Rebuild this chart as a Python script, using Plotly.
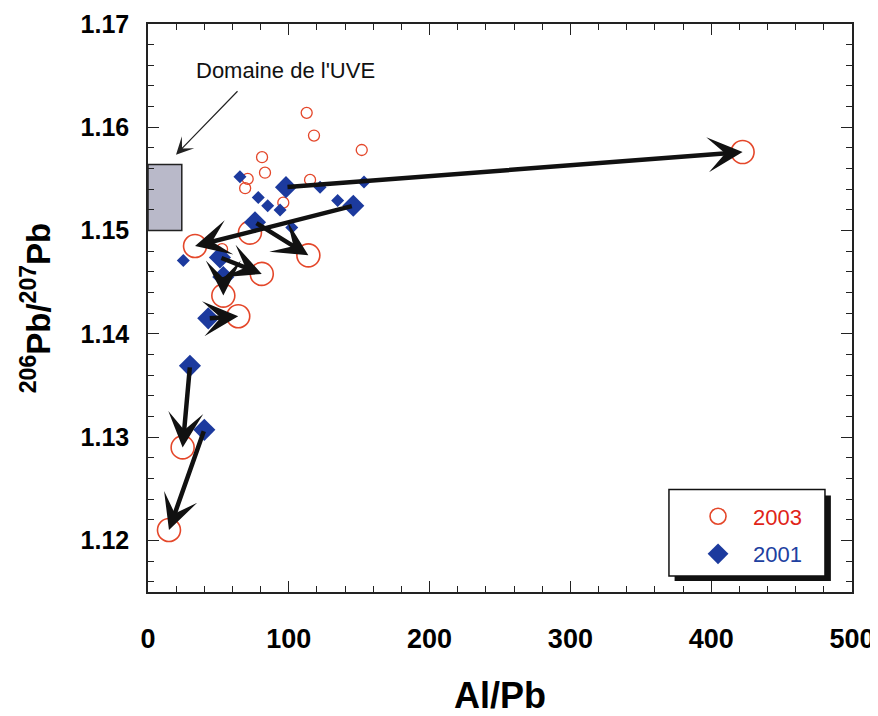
import plotly.graph_objects as go

# ---------------- data ----------------
# 2003 campaign (red open circles)
x2003_small = [112.7, 117.9, 151.8, 81.0, 83.1, 70.8, 69.0, 115.1, 96.1, 52.6]
y2003_small = [1.1614, 1.1592, 1.1578, 1.1571, 1.1556, 1.1550, 1.1541, 1.1549, 1.1527, 1.1482]
x2003_large = [422.3, 33.4, 113.9, 80.8, 53.5, 64.1, 24.6, 14.9, 72.4]
y2003_large = [1.1576, 1.1485, 1.1476, 1.1458, 1.1437, 1.1417, 1.1290, 1.1210, 1.1498]

# 2001 campaign (blue diamonds)
x2001_small = [65.3, 78.3, 85.0, 93.8, 122.2, 153.4, 134.7, 102.1, 25.1]
y2001_small = [1.1552, 1.1532, 1.1524, 1.1520, 1.1542, 1.1547, 1.1529, 1.1503, 1.1471]
x2001_large = [98.0, 145.8, 76.0, 51.1, 53.5, 42.8, 29.8, 40.0]
y2001_large = [1.1542, 1.1524, 1.1508, 1.1474, 1.1455, 1.1415, 1.1369, 1.1307]

# UVE domain box
uve_x = [0, 24]
uve_y = [1.1500, 1.1564]
uve_label = "Domaine de l'UVE"
uve_label_pos = [98, 1.16546]
uve_arrow_tail = [64.6, 1.16363]
uve_arrow_head = [19.9, 1.15735]

x_ticks = [0, 100, 200, 300, 400, 500]
y_ticks = [1.12, 1.13, 1.14, 1.15, 1.16, 1.17]

RED = "#e4472a"
BLUE = "#1c3a9e"

fig = go.Figure()

fig.add_trace(go.Scatter(
    x=x2003_large, y=y2003_large, mode="markers",
    name="<span style='color:#e02418'>2003</span>", legendgroup="2003",
    marker=dict(symbol="circle-open", size=23, color=RED, line=dict(width=1.6, color=RED)),
))
fig.add_trace(go.Scatter(
    x=x2003_small, y=y2003_small, mode="markers", showlegend=False, legendgroup="2003",
    marker=dict(symbol="circle-open", size=11, color=RED, line=dict(width=1.3, color=RED)),
))
fig.add_trace(go.Scatter(
    x=x2001_large, y=y2001_large, mode="markers",
    name="<span style='color:#2040a0'>2001</span>", legendgroup="2001",
    marker=dict(symbol="diamond", size=17, color=BLUE, line=dict(width=0)),
))
fig.add_trace(go.Scatter(
    x=x2001_small, y=y2001_small, mode="markers", showlegend=False, legendgroup="2001",
    marker=dict(symbol="diamond", size=10, color=BLUE, line=dict(width=0)),
))

# arrows 2001 -> 2003
for xs, ys, xe, ye in zip(x2001_large, y2001_large, x2003_large, y2003_large):
    fig.add_annotation(
        x=xe, y=ye, ax=xs, ay=ys, xref="x", yref="y", axref="x", ayref="y",
        text="", showarrow=True, arrowhead=3, arrowwidth=4.5, arrowsize=1.3,
        arrowcolor="#111111", standoff=0, startstandoff=0,
    )

# UVE domain
fig.add_shape(type="rect", xref="x", yref="y",
              x0=uve_x[0], x1=uve_x[1], y0=uve_y[0], y1=uve_y[1],
              fillcolor="#b9b9c9", line=dict(color="#222222", width=1.5), layer="below")
fig.add_annotation(x=uve_label_pos[0], y=uve_label_pos[1], xref="x", yref="y",
                   text=uve_label, showarrow=False,
                   font=dict(size=22, color="#111111", family="Liberation Sans, Arial, sans-serif"))
fig.add_annotation(x=uve_arrow_head[0], y=uve_arrow_head[1], ax=uve_arrow_tail[0], ay=uve_arrow_tail[1],
                   xref="x", yref="y", axref="x", ayref="y", text="", showarrow=True,
                   arrowhead=3, arrowwidth=1.2, arrowsize=2.4, arrowcolor="#222222")

# legend box with shadow
fig.add_shape(type="rect", xref="paper", yref="paper", x0=0.748, x1=0.970, y0=0.0193, y1=0.170,
              fillcolor="#111111", line=dict(width=0), layer="above")
fig.add_shape(type="rect", xref="paper", yref="paper", x0=0.740, x1=0.9616, y0=0.028, y1=0.1804,
              fillcolor="white", line=dict(color="#111111", width=1.5), layer="above")

axis_common = dict(
    showline=True, linewidth=1.5, linecolor="#222222", mirror="allticks",
    ticks="inside", ticklen=11, tickwidth=1.2, tickcolor="#222222",
    showgrid=False, zeroline=False, automargin=False, ticklabeloverflow="allow",
)

fig.update_xaxes(
    range=[0, 500], tickvals=x_ticks, **axis_common,
    minor=dict(dtick=20, ticks="inside", ticklen=6, tickwidth=1.2, tickcolor="#222222", showgrid=False),
    tickfont=dict(size=27, weight="bold", family="Liberation Sans, Arial"),
    ticklabelstandoff=22,
    title=dict(text="Al/Pb", font=dict(size=36, weight="bold", family="Liberation Sans, Arial"), standoff=30),
)
fig.update_yaxes(
    range=[1.115, 1.17], tickvals=y_ticks, tickformat=".2f", **axis_common,
    minor=dict(dtick=0.002, ticks="inside", ticklen=6, tickwidth=1.2, tickcolor="#222222", showgrid=False),
    tickfont=dict(size=25, weight="bold", family="Liberation Sans, Arial"),
    ticklabelstandoff=12,
    title=dict(text="<sup>206</sup>Pb/<sup>207</sup>Pb",
               font=dict(size=33, weight="bold", family="Liberation Sans, Arial"), standoff=20),
)

fig.update_layout(
    width=870, height=708,
    margin=dict(l=140, r=26, t=16, b=124),
    paper_bgcolor="white", plot_bgcolor="white",
    font=dict(family="Liberation Sans, Arial, sans-serif", color="black"),
    showlegend=True,
    legend=dict(x=0.760, y=0.170, xanchor="left", yanchor="top",
                bgcolor="rgba(0,0,0,0)", borderwidth=0,
                font=dict(size=22, family="Liberation Sans, Arial"),
                itemsizing="trace", tracegroupgap=6, itemwidth=60),
)

fig.write_html("out.html")
